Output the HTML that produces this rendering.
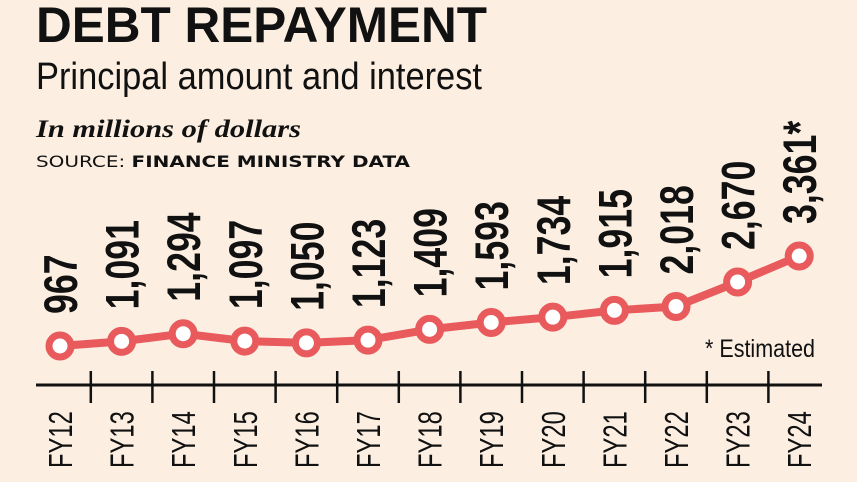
<!DOCTYPE html>
<html><head><meta charset="utf-8"><style>
html,body{margin:0;padding:0;background:#fcefe2;}
svg{display:block;}
.narrow{font-family:"Liberation Sans Narrow","Liberation Sans",sans-serif;}
</style></head><body>
<svg id="chart" width="857" height="482" viewBox="0 0 857 482" xmlns="http://www.w3.org/2000/svg">
<rect width="857" height="482" fill="#fcefe2"/>
<text x="36" y="42" font-family="Liberation Sans, sans-serif" font-weight="bold" font-size="50" textLength="451" lengthAdjust="spacingAndGlyphs" fill="#111">DEBT REPAYMENT</text>
<text class="narrow" x="36" y="89" font-size="38" textLength="446" lengthAdjust="spacingAndGlyphs" fill="#111">Principal amount and interest</text>
<text x="36" y="137" font-family="Liberation Serif, serif" font-style="italic" font-weight="bold" font-size="25" textLength="265" lengthAdjust="spacingAndGlyphs" fill="#111">In millions of dollars</text>
<text x="36" y="167" font-family="DejaVu Sans, sans-serif" font-size="16" textLength="374" lengthAdjust="spacingAndGlyphs" fill="#111">SOURCE: <tspan font-weight="bold">FINANCE MINISTRY DATA</tspan></text>
<text class="narrow" x="705" y="357" font-size="25" textLength="110" lengthAdjust="spacingAndGlyphs" fill="#111">* Estimated</text>
<g id="axis"></g>
<g id="series"></g>
</svg>
<script>
const categories = ["FY12","FY13","FY14","FY15","FY16","FY17","FY18","FY19","FY20","FY21","FY22","FY23","FY24"];
const values = [967,1091,1294,1097,1050,1123,1409,1593,1734,1915,2018,2670,3361];
const valueLabels = ["967","1,091","1,294","1,097","1,050","1,123","1,409","1,593","1,734","1,915","2,018","2,670","3,361*"];

const NS = "http://www.w3.org/2000/svg";
const x0 = 60, step = 61.6;
function xScale(i){ return x0 + i*step; }
function yScale(v){ return 346 - (v-967)*(90/2394); }
function mk(tag, attrs, parent){ const e=document.createElementNS(NS,tag); for(const k in attrs) e.setAttribute(k,attrs[k]); parent.appendChild(e); return e; }

const axis = document.getElementById("axis");
const series = document.getElementById("series");

const axLine = mk("line",{x1:36,y1:385,x2:822,y2:385,stroke:"#111","stroke-width":3},axis);



categories.forEach((c,i)=>{
  const x = xScale(i);
  if(i>0){
    const t = mk("line",{x1:x-step/2,y1:371,x2:x-step/2,y2:403,stroke:"#111","stroke-width":2.5},axis);
    
    
  }
  const lab = mk("text",{transform:`translate(${x+12},468) rotate(-90) scale(0.72,1)`,"font-size":33,fill:"#111",class:"narrow"},axis);
  lab.textContent = c;
  
  
});

const pts = values.map((v,i)=>xScale(i)+","+yScale(v)).join(" ");
const line = mk("polyline",{points:pts,fill:"none",stroke:"#e85a5c","stroke-width":8,"stroke-linejoin":"round"},series);



values.forEach((v,i)=>{
  const x = xScale(i), y = yScale(v);
  const c = mk("circle",{cx:x,cy:y,r:11,fill:"#fff",stroke:"#e85a5c","stroke-width":7},series);
  
  
  const t = mk("text",{transform:`translate(${x+17},${y-32}) rotate(-90) scale(0.76,1)`,"font-size":47,"font-weight":"bold",fill:"#111",class:"narrow"},series);
  t.textContent = valueLabels[i];
  
  
});
</script>
</body></html>
